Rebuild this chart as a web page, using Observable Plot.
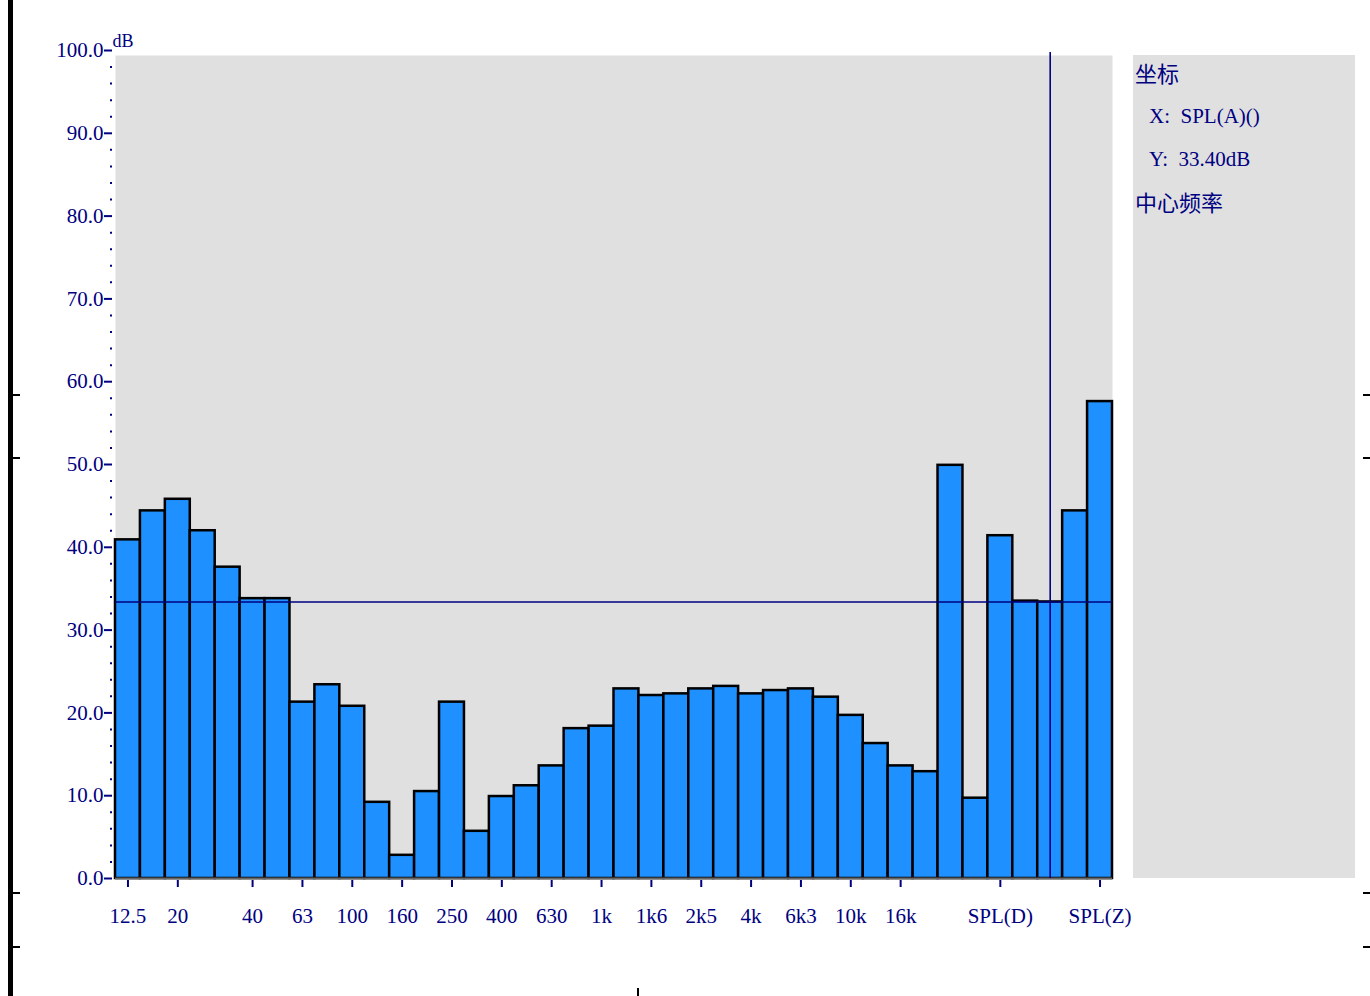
<!DOCTYPE html>
<html><head><meta charset="utf-8">
<script src="https://cdn.jsdelivr.net/npm/d3@7"></script>
<script src="https://cdn.jsdelivr.net/npm/@observablehq/plot@0.6"></script>
<style>
body{margin:0;background:#fff;width:1370px;height:996px;overflow:hidden;position:relative;}
#chart{position:absolute;left:0;top:0;}
.panel{position:absolute;left:1133px;top:55px;width:222px;height:823px;background:#e0e0e0;color:#000080;}
.panel div{position:absolute;white-space:pre;}
.cjk{font-family:"Noto Sans CJK SC";font-size:22px;left:2px;}
.ser{font-family:"Liberation Serif";font-size:21px;left:16px;}
.mk{position:absolute;background:#000;}
</style></head>
<body>
<div id="chart"></div>
<div class="panel">
  <div class="cjk" style="top:1px">坐标</div>
  <div class="ser" id="cx" style="top:49px"></div>
  <div class="ser" id="cy" style="top:92px"></div>
  <div class="cjk" style="top:130px">中心频率</div>
</div>
<div class="mk" style="left:8px;top:0;width:5px;height:996px"></div>
<div class="mk" style="left:13px;top:394px;width:7px;height:2px"></div>
<div class="mk" style="left:13px;top:457px;width:7px;height:2px"></div>
<div class="mk" style="left:13px;top:892px;width:7px;height:2px"></div>
<div class="mk" style="left:13px;top:946px;width:7px;height:2px"></div>
<div class="mk" style="left:1363px;top:394px;width:7px;height:2px"></div>
<div class="mk" style="left:1363px;top:457px;width:7px;height:2px"></div>
<div class="mk" style="left:1363px;top:892px;width:7px;height:2px"></div>
<div class="mk" style="left:1363px;top:946px;width:7px;height:2px"></div>
<div class="mk" style="left:637px;top:988px;width:2px;height:8px"></div>
<script>
const bands = ["12.5","16","20","25","31.5","40","50","63","80","100","125","160","200","250","315","400","500","630","800","1k","1k25","1k6","2k","2k5","3k15","4k","5k","6k3","8k","10k","12k5","16k","20k","LMax","LMin","SPL(D)","SPL(C)","SPL(A)","SPL(B)","SPL(Z)"];
const levels = [40.9,44.4,45.8,42.0,37.6,33.8,33.8,21.3,23.4,20.8,9.2,2.8,10.5,21.3,5.7,9.9,11.2,13.6,18.1,18.4,22.9,22.1,22.3,22.9,23.2,22.3,22.7,22.9,21.9,19.7,16.3,13.6,12.9,49.9,9.7,41.4,33.5,33.4,44.4,57.6];
const xTicks = ["12.5","20","40","63","100","160","250","400","630","1k","1k6","2k5","4k","6k3","10k","16k","SPL(D)","SPL(Z)"];
const yMajor = [0,10,20,30,40,50,60,70,80,90,100];
const yMinor = [2,4,6,8,12,14,16,18,22,24,26,28,32,34,36,38,42,44,46,48,52,54,56,58,62,64,66,68,72,74,76,78,82,84,86,88,92,94,96,98];
const cursorX = "SPL(A)";
const cursorY = 33.40;
const unit = "dB";

document.getElementById("cx").textContent = "X:  " + cursorX + "()";
document.getElementById("cy").textContent = "Y:  " + cursorY.toFixed(2) + unit;

const data = bands.map((b, i) => ({band: b, db: levels[i]}));
const navy = "#000080";
const chart = Plot.plot({
  width: 1370, height: 996,
  marginLeft: 115, marginRight: 258, marginTop: 50, marginBottom: 118,
  style: {fontFamily: "Liberation Serif", fontSize: "21px", color: navy, background: "transparent"},
  x: {domain: bands, padding: 0, axis: null},
  y: {domain: [0, 100], axis: null},
  marks: [
    Plot.frame({fill: "#e0e0e0", stroke: null, insetTop: 5}),
    Plot.barY(data, {x: "band", y: "db", fill: "#1e90ff", stroke: "#000", strokeWidth: 2.5, inset: 0}),
    Plot.ruleY([0], {stroke: "#666", strokeWidth: 2}),
    Plot.ruleY([cursorY], {stroke: navy, strokeWidth: 1.6}),
    Plot.ruleX([cursorX], {stroke: navy, strokeWidth: 1.6, insetTop: 2}),
    Plot.axisY({ticks: yMajor, tickSize: 8, tickPadding: 1, dx: -3, strokeWidth: 2, tickFormat: d => d.toFixed(1), fill: navy, label: null}),
    Plot.axisY({ticks: yMinor, tickSize: 2, dx: -3, strokeWidth: 2, tickFormat: () => "", label: null}),
    Plot.axisX({ticks: xTicks, tickSize: 7, tickPadding: 21, dy: 2, strokeWidth: 2, fill: navy, label: null}),
    Plot.text([unit], {frameAnchor: "top-left", textAnchor: "start", lineAnchor: "bottom", dx: -3, dy: -4, fontSize: 18, fill: navy})
  ]
});
document.getElementById("chart").appendChild(chart);
</script>
</body></html>
